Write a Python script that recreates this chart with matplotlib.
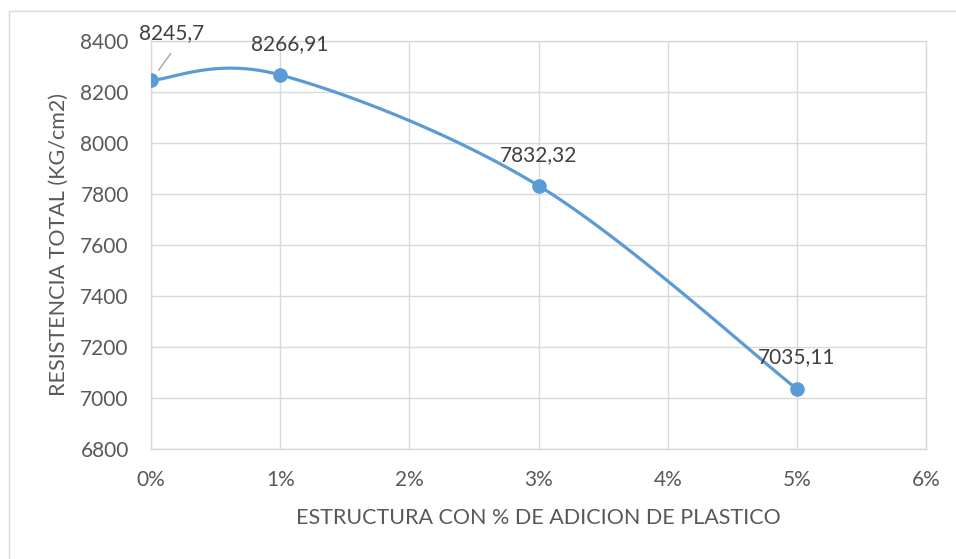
import numpy as np
import matplotlib
matplotlib.use("Agg")
import matplotlib.pyplot as plt
from matplotlib.ticker import FuncFormatter

# data
adicion = [0, 1, 3, 5]  # % de plastico
resistencia = [8245.7, 8266.91, 7832.32, 7035.11]
etiquetas = ["8245,7", "8266,91", "7832,32", "7035,11"]
y_ticks = [6800, 7000, 7200, 7400, 7600, 7800, 8000, 8200, 8400]
x_ticks = [0, 1, 2, 3, 4, 5, 6]

BLUE = "#5B9BD5"
GRID = "#D9D9D9"
TXT = "#595959"
plt.rcParams["font.family"] = ["Lato", "DejaVu Sans"]


def smooth_line(xs, ys, sx, sy, n=40):
    # Excel-style smoothed line: cubic bezier, control points from neighbours
    px = np.array(xs, float) * sx
    py = np.array(ys, float) * sy
    pts = np.column_stack([px, py])
    out = []
    for i in range(len(pts) - 1):
        p0 = pts[i - 1] if i > 0 else pts[i]
        p1, p2 = pts[i], pts[i + 1]
        p3 = pts[i + 2] if i + 2 < len(pts) else pts[i + 1]
        c1 = p1 + (p2 - p0) / 6
        c2 = p2 - (p3 - p1) / 6
        t = np.linspace(0, 1, n)[:, None]
        seg = ((1 - t) ** 3) * p1 + 3 * ((1 - t) ** 2) * t * c1 + 3 * (1 - t) * t ** 2 * c2 + t ** 3 * p2
        out.append(seg)
    out = np.vstack(out)
    return out[:, 0] / sx, out[:, 1] / sy


fig = plt.figure(figsize=(9.56, 5.59), dpi=100)
ax = fig.add_axes([0.158, 0.197, 0.8106, 0.7297])

# outer chart frame
fig.add_artist(plt.Line2D([0.0095, 0.0095], [0, 0.98], color=GRID, lw=1))
fig.add_artist(plt.Line2D([0.0095, 0.999], [0.98, 0.98], color=GRID, lw=1))

sx = 775 / 6.0
sy = 408 / 1600.0
lx, ly = smooth_line(adicion, resistencia, sx, sy)
ax.plot(lx, ly, color=BLUE, lw=2.3, zorder=3, solid_capstyle="round")
ax.plot(adicion, resistencia, "o", color=BLUE, ms=9.5, zorder=4)

# data labels (offsets in points)
offs = [(15, 34), (6.5, 22), (0, 22), (0, 23)]
for x, y, lab, (dx, dy) in zip(adicion, resistencia, etiquetas, offs):
    ax.annotate(lab, (x, y), xytext=(dx, dy), textcoords="offset points",
                ha="center", va="center", fontsize=15, color="#404040", zorder=5)
# leader line for the first label
ax.annotate("", (0.045, 8275), xytext=(0.165, 8360),
            arrowprops=dict(arrowstyle="-", color="#A6A6A6", lw=1))

ax.set_xlim(0, 6)
ax.set_ylim(6800, 8400)
ax.set_xticks(x_ticks)
ax.set_yticks(y_ticks)
ax.xaxis.set_major_formatter(FuncFormatter(lambda v, p: f"{int(v)}%"))
ax.grid(True, color=GRID, lw=1)
ax.set_axisbelow(True)
for s in ax.spines.values():
    s.set_color(GRID)
    s.set_linewidth(1)
ax.tick_params(length=0, labelsize=15, labelcolor=TXT)
ax.tick_params(axis="x", pad=15)
ax.tick_params(axis="y", pad=16)
ax.set_xlabel("ESTRUCTURA CON % DE ADICION DE PLASTICO", fontsize=15.5, color=TXT, labelpad=13)
ax.set_ylabel("RESISTENCIA TOTAL (KG/cm2)", fontsize=15.5, color=TXT, labelpad=8)

fig.savefig("out.png", dpi=100)
